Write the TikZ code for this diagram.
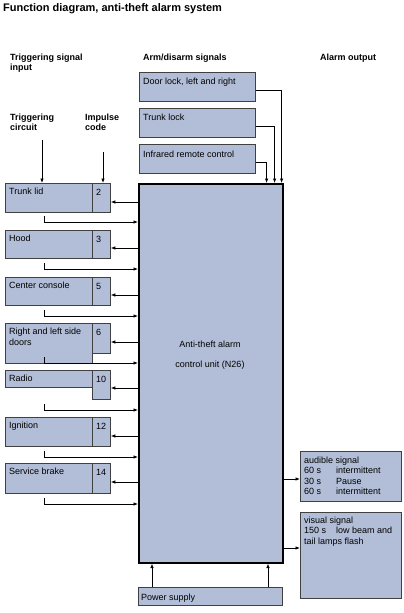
\documentclass[tikz,border=0pt]{standalone}
\usepackage{fontspec}
\setmainfont{Liberation Sans}
\usetikzlibrary{arrows.meta}
\definecolor{boxblue}{RGB}{178,190,215}

\begin{document}
\begin{tikzpicture}[x=1pt,y=-1pt,
  font=\fontsize{9}{10.5}\selectfont,
  box/.style={draw=black!75, line width=0.8pt, fill=boxblue, inner sep=0pt, anchor=north west},
  txt/.style={anchor=base west, inner sep=0pt, align=left},
  head/.style={txt, font=\fontsize{9}{10}\selectfont\bfseries},
  arr/.style={line width=0.7pt, -{Latex[length=4.5pt,width=3.5pt]}}]
\useasboundingbox (0,0) rectangle (404,613);

\node[txt, font=\fontsize{11}{13}\selectfont\bfseries] (title) at (3,12) {Function diagram, anti-theft alarm system};
% base of a two-line node is its last line
\node[head] (hin) at (10,70) {Triggering signal\\input};
\node[head] (harm) at (143,60) {Arm/disarm signals};
\node[head] (hout) at (320,60) {Alarm output};
\node[head] (hcirc) at (10,130) {Triggering\\circuit};
\node[head] (hcode) at (85,130) {Impulse\\code};

% control unit
\node[box, draw=black, line width=1.6pt, minimum width=144, minimum height=379] (ecu) at (138,183) {};
\node[anchor=base, inner sep=0pt] (ecu1) at (210,347) {Anti-theft alarm};
\node[anchor=base, inner sep=0pt] (ecu2) at (210,367) {control unit (N26)};

% arm/disarm
\node[box, minimum width=116, minimum height=29] (door) at (139,72) {};
\node[box, minimum width=116, minimum height=29] (tlock) at (139,108) {};
\node[box, minimum width=116, minimum height=29] (ir) at (139,144) {};
\node[txt] at ([shift={(4,12)}]door.north west) {Door lock, left and right};
\node[txt] at ([shift={(4,12)}]tlock.north west) {Trunk lock};
\node[txt] at ([shift={(4,13)}]ir.north west) {Infrared remote control};
\draw[arr] ([shift={(0,18)}]door.north east) -| ([xshift=-2pt]ecu.north east);
\draw[arr] ([shift={(0,18)}]tlock.north east) -| ([xshift=-9pt]ecu.north east);
\draw[arr] ([shift={(0,18)}]ir.north east) -| ([xshift=-17pt]ecu.north east);

% triggering circuits
\foreach \n/\txt/\c/\t/\h/\ch/\ay/\ry in {
    trunk/Trunk lid/2/183/29/29/202/222,
    hood/Hood/3/230/28/28/248/269,
    console/Center console/5/277/28/28/295/316,
    doors/Right and left side\\doors/6/323/40/30/342/363,
    radio/Radio/10/370/17/29/388/410,
    ign/Ignition/12/417/29/29/436/457,
    brake/Service brake/14/463/30/30/482/504}{
  \node[box, minimum width=87, minimum height=\h] (\n) at (5,\t) {};
  \node[box, minimum width=18, minimum height=\ch] (\n-code) at (92,\t) {};
  \node[txt, anchor=north west] at ([shift={(4,5)}]\n.north west) {\txt};
  \node[txt] at ([shift={(4,12)}]\n-code.north west) {\c};
  \draw[arr] (ecu.west |- 0,\ay) -- (\n-code.east |- 0,\ay);
  \coordinate (\n-out) at (44,\ry-6);
  \draw[arr] (\n-out) |- (ecu.west |- 0,\ry);
}
\coordinate (trig) at (42,140);
\coordinate (imp) at (103,152);
\draw[arr] (trig) -- (trig |- trunk.north);
\draw[arr] (imp) -- (imp |- trunk-code.north);

% alarm output
\node[box, minimum width=101, minimum height=50] (audible) at (300,451) {};
\node[box, minimum width=101, minimum height=86] (visual) at (300,512) {};
\node[txt] at (304,463) {\begin{tabular}[t]{@{}p{32pt}@{}l@{}}
  \multicolumn{2}{@{}l@{}}{audible signal}\\
  60 s & intermittent\\
  30 s & Pause\\
  60 s & intermittent
\end{tabular}};
\node[txt] at (304,523) {\begin{tabular}[t]{@{}p{32pt}@{}l@{}}
  \multicolumn{2}{@{}l@{}}{visual signal}\\
  150 s & low beam and\\
  \multicolumn{2}{@{}l@{}}{tail lamps flash}
\end{tabular}};
\draw[arr] (ecu.east |- 0,479) -- (audible.west |- 0,479);
\draw[arr] (ecu.east |- 0,548) -- (visual.west |- 0,548);

% power supply
\node[box, minimum width=144, minimum height=18] (power) at (138,587) {};
\node[txt] at (141,600) {Power supply};
\draw[arr] (power.north -| 152,0) -- (ecu.south -| 152,0);
\draw[arr] (power.north -| 268,0) -- (ecu.south -| 268,0);
\end{tikzpicture}
\end{document}
